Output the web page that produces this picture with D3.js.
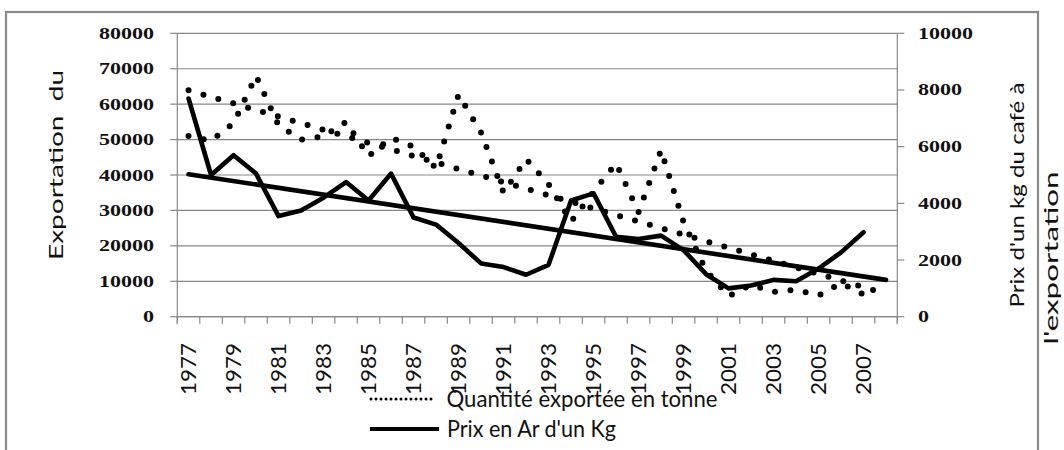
<!DOCTYPE html>
<html><head><meta charset="utf-8">
<script src="https://cdn.jsdelivr.net/npm/d3@7/dist/d3.min.js"></script>
<style>body{margin:0;background:#fff;} svg{display:block;}</style>
</head><body>
<svg id="chart" width="1064" height="450"></svg>
<script>
// ---- data ----
const years = ["1977","1978","1979","1980","1981","1982","1983","1984","1985","1986","1987","1988","1989","1990","1991","1992","1993","1994","1995","1996","1997","1998","1999","2000","2001","2002","2003","2004","2005","2006","2007","2008"];
const dataYears = years.slice(0, 31);
const tickYears = ["1977","1979","1981","1983","1985","1987","1989","1991","1993","1995","1997","1999","2001","2003","2005","2007"];
const quantity = [51000,49700,54600,68000,54000,50000,50900,55000,45300,50500,48000,42000,62700,52000,35000,44500,37400,26800,35300,43300,29500,47000,26700,13000,5800,9000,7000,7600,6000,9500,6300];
const price = [7700,5000,5700,5050,3550,3750,4200,4750,4100,5050,3500,3250,2600,1880,1750,1480,1830,4100,4350,2820,2740,2860,2350,1500,1000,1100,1300,1250,1700,2270,2980];
const trendYears = ["1977","2008"];
const quantityTrend = [63900, 6500];
const priceTrend = [5025, 1300];
const leftTicks = [0,10000,20000,30000,40000,50000,60000,70000,80000];
const rightTicks = [0,2000,4000,6000,8000,10000];
const leftTitle = "Exportation  du";
const rightTitle1 = "Prix d'un kg du café à";
const rightTitle2 = "l'exportation";
const legendLabels = ["Quantité exportée en tonne", "Prix en Ar d'un Kg"];

// ---- layout ----
const svg = d3.select("#chart");
const L = 177.3, R = 897.3, T = 33.3, B = 316.7;
const grey = "#878787";
const x = d3.scaleBand().domain(years).range([L, R]).padding(0);
const xc = d => x(d) + x.bandwidth() / 2;
const yL = d3.scaleLinear().domain([0, 80000]).range([B, T]);
const yR = d3.scaleLinear().domain([0, 10000]).range([B, T]);

// outer border
svg.append("rect").attr("x", 6).attr("y", 12).attr("width", 1032).attr("height", 460)
  .attr("fill", "none").attr("stroke", "#8a8a8a").attr("stroke-width", 2.2);

// gridlines
svg.append("g").selectAll("line").data(leftTicks).join("line")
  .attr("x1", L).attr("x2", R).attr("y1", d => yL(d)).attr("y2", d => yL(d))
  .attr("stroke", grey).attr("stroke-width", 1.2);

// left axis
svg.append("line").attr("x1", L).attr("x2", L).attr("y1", T).attr("y2", B + 7)
  .attr("stroke", grey).attr("stroke-width", 1.2);
svg.append("g").selectAll("line").data(leftTicks).join("line")
  .attr("x1", L - 7).attr("x2", L).attr("y1", d => yL(d)).attr("y2", d => yL(d))
  .attr("stroke", grey).attr("stroke-width", 1.2);
svg.append("g").selectAll("text").data(leftTicks).join("text")
  .attr("x", 154).attr("y", d => yL(d) + 5.5)
  .attr("text-anchor", "end")
  .attr("font-family", "Liberation Serif").attr("font-weight", "bold").attr("font-size", 16.5)
  .attr("textLength", d => String(d).length * 11).attr("lengthAdjust", "spacingAndGlyphs")
  .attr("fill", "#111").text(d => d);

// right axis
svg.append("line").attr("x1", R).attr("x2", R).attr("y1", T).attr("y2", B + 7)
  .attr("stroke", grey).attr("stroke-width", 1.2);
svg.append("g").selectAll("line").data(rightTicks).join("line")
  .attr("x1", R).attr("x2", R + 7).attr("y1", d => yR(d)).attr("y2", d => yR(d))
  .attr("stroke", grey).attr("stroke-width", 1.2);
svg.append("g").selectAll("text").data(rightTicks).join("text")
  .attr("x", 918).attr("y", d => yR(d) + 5.5)
  .attr("text-anchor", "start")
  .attr("font-family", "Liberation Serif").attr("font-weight", "bold").attr("font-size", 16.5)
  .attr("textLength", d => String(d).length * 11).attr("lengthAdjust", "spacingAndGlyphs")
  .attr("fill", "#111").text(d => d);

// x axis
svg.append("line").attr("x1", L).attr("x2", R).attr("y1", B).attr("y2", B)
  .attr("stroke", grey).attr("stroke-width", 1.2);
const bounds = years.map(d => x(d)).concat([R]);
svg.append("g").selectAll("line").data(bounds).join("line")
  .attr("x1", d => d).attr("x2", d => d).attr("y1", B).attr("y2", B + 7)
  .attr("stroke", grey).attr("stroke-width", 1.2);
svg.append("g").selectAll("text").data(tickYears).join("text")
  .attr("transform", d => `translate(${xc(d) + 7.5},343) rotate(-90)`)
  .attr("text-anchor", "end")
  .attr("font-family", "Lato").attr("font-size", 21)
  .attr("textLength", 52).attr("lengthAdjust", "spacingAndGlyphs")
  .attr("fill", "#111").text(d => d);

// series
const lineQ = d3.line().x((d, i) => xc(dataYears[i])).y(d => yL(d));
const lineP = d3.line().x((d, i) => xc(dataYears[i])).y(d => yR(d));
const lineQT = d3.line().x((d, i) => xc(trendYears[i])).y(d => yL(d));
const linePT = d3.line().x((d, i) => xc(trendYears[i])).y(d => yR(d));

const dotted = sel => sel.attr("fill", "none").attr("stroke", "#000").attr("stroke-width", 6)
  .attr("stroke-linecap", "round").attr("stroke-linejoin", "round").attr("stroke-dasharray", "0 15.5");
const solid = sel => sel.attr("fill", "none").attr("stroke", "#000").attr("stroke-width", 4.6)
  .attr("stroke-linecap", "round").attr("stroke-linejoin", "round");

svg.append("path").attr("d", lineQ(quantity)).call(dotted);
svg.append("path").attr("d", lineQT(quantityTrend)).call(dotted);
svg.append("path").attr("d", lineP(price)).call(solid);
svg.append("path").attr("d", linePT(priceTrend)).call(solid);

// axis titles
svg.append("text").attr("transform", "translate(63,165) rotate(-90)")
  .attr("text-anchor", "middle").attr("font-family", "Lato").attr("font-size", 20)
  .attr("textLength", 190).attr("lengthAdjust", "spacingAndGlyphs")
  .style("white-space", "pre").attr("fill", "#111").text(leftTitle);
svg.append("text").attr("transform", "translate(1024,195) rotate(-90)")
  .attr("text-anchor", "middle").attr("font-family", "Lato").attr("font-size", 20)
  .attr("textLength", 225).attr("lengthAdjust", "spacingAndGlyphs")
  .attr("fill", "#111").text(rightTitle1);
svg.append("text").attr("transform", "translate(1058,258) rotate(-90)")
  .attr("text-anchor", "middle").attr("font-family", "Lato").attr("font-size", 20)
  .attr("textLength", 173).attr("lengthAdjust", "spacingAndGlyphs")
  .attr("fill", "#111").text(rightTitle2);

// legend
const lg = svg.append("g");
lg.append("line").attr("x1", 371).attr("x2", 436).attr("y1", 399).attr("y2", 399)
  .attr("stroke", "#000").attr("stroke-width", 3).attr("stroke-linecap", "round").attr("stroke-dasharray", "0 5");
lg.append("line").attr("x1", 370).attr("x2", 439).attr("y1", 429).attr("y2", 429)
  .attr("stroke", "#000").attr("stroke-width", 4);
lg.append("text").attr("x", 446.5).attr("y", 407).attr("font-family", "Lato").attr("font-size", 23)
  .attr("textLength", 271).attr("lengthAdjust", "spacingAndGlyphs").attr("fill", "#111").text(legendLabels[0]);
lg.append("text").attr("x", 447).attr("y", 437).attr("font-family", "Lato").attr("font-size", 23)
  .attr("textLength", 169).attr("lengthAdjust", "spacingAndGlyphs").attr("fill", "#111").text(legendLabels[1]);
</script>
</body></html>
